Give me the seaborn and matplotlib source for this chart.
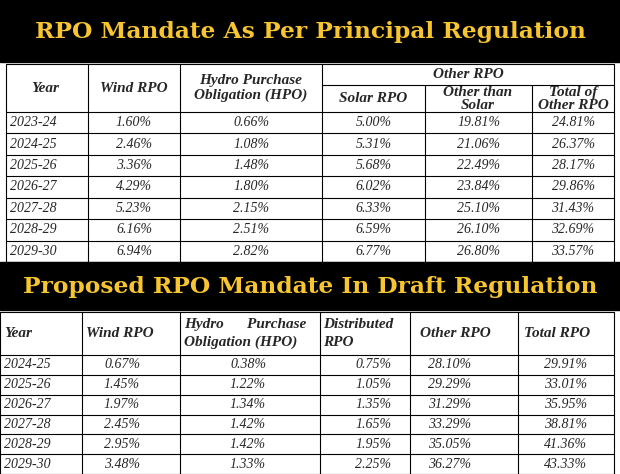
import matplotlib.pyplot as plt
import seaborn as sns

sns.set_theme(style="white")
plt.rcParams.update({"font.family": "Liberation Serif", "font.style": "italic"})

# top table data
years_1 = ["2023-24", "2024-25", "2025-26", "2026-27", "2027-28", "2028-29", "2029-30"]
wind_1 = ["1.60%", "2.46%", "3.36%", "4.29%", "5.23%", "6.16%", "6.94%"]
hpo_1 = ["0.66%", "1.08%", "1.48%", "1.80%", "2.15%", "2.51%", "2.82%"]
solar_1 = ["5.00%", "5.31%", "5.68%", "6.02%", "6.33%", "6.59%", "6.77%"]
other_1 = ["19.81%", "21.06%", "22.49%", "23.84%", "25.10%", "26.10%", "26.80%"]
total_1 = ["24.81%", "26.37%", "28.17%", "29.86%", "31.43%", "32.69%", "33.57%"]

# bottom table data
years_2 = ["2024-25", "2025-26", "2026-27", "2027-28", "2028-29", "2029-30"]
wind_2 = ["0.67%", "1.45%", "1.97%", "2.45%", "2.95%", "3.48%"]
hpo_2 = ["0.38%", "1.22%", "1.34%", "1.42%", "1.42%", "1.33%"]
dist_2 = ["0.75%", "1.05%", "1.35%", "1.65%", "1.95%", "2.25%"]
other_2 = ["28.10%", "29.29%", "31.29%", "33.29%", "35.05%", "36.27%"]
total_2 = ["29.91%", "33.01%", "35.95%", "38.81%", "41.36%", "43.33%"]

fig = plt.figure(figsize=(6.2, 4.74), dpi=100)
ax = fig.add_axes([0, 0, 1, 1])
ax.set_xlim(0, 620)
ax.set_ylim(474, 0)
ax.axis("off")

YELLOW = "#F7C530"
LW = 0.8

def title_bar(y0, y1, text):
    ax.add_patch(plt.Rectangle((0, y0), 620, y1 - y0, color="black", zorder=0))
    ax.text(310, (y0 + y1) / 2 + 1, text, ha="center", va="center", color=YELLOW,
            fontsize=16.8, fontweight="bold", fontstyle="normal", family="DejaVu Serif")

def hline(y, x0, x1):
    ax.plot([x0, x1], [y, y], color="black", lw=LW)

def vline(x, y0, y1):
    ax.plot([x, x], [y0, y1], color="black", lw=LW)

title_bar(0, 62, "RPO Mandate As Per Principal Regulation")
title_bar(262, 310, "Proposed RPO Mandate In Draft Regulation")

# ---- top table
xs = [6, 88, 180, 322, 425, 532, 614]
h0, hmid, h1 = 64, 85, 112
rows = [112 + i * (262 - 112) / 7 for i in range(8)]
hline(h0, xs[0], xs[-1])
hline(hmid, xs[3], xs[-1])
for y in rows:
    hline(y, xs[0], xs[-1])
for i, x in enumerate(xs):
    if i in (4, 5):
        vline(x, hmid, rows[-1])
    else:
        vline(x, h0, rows[-1])
fs = 10
ax.text(45, (h0 + h1) / 2, "Year", ha="center", va="center", fontsize=11, fontweight="bold")
ax.text(134, (h0 + h1) / 2, "Wind RPO", ha="center", va="center", fontsize=11, fontweight="bold")
ax.text(251, (h0 + h1) / 2, "Hydro Purchase\nObligation (HPO)", ha="center", va="center",
        fontsize=11, fontweight="bold", linespacing=1.1)
ax.text(468, (h0 + hmid) / 2, "Other RPO", ha="center", va="center", fontsize=11, fontweight="bold")
ax.text(373, (hmid + h1) / 2, "Solar RPO", ha="center", va="center", fontsize=11, fontweight="bold")
ax.text(478, (hmid + h1) / 2, "Other than\nSolar", ha="center", va="center", fontsize=11,
        fontweight="bold", linespacing=1.0)
ax.text(573, (hmid + h1) / 2, "Total of\nOther RPO", ha="center", va="center", fontsize=11,
        fontweight="bold", linespacing=1.0)
for i, vals in enumerate(zip(years_1, wind_1, hpo_1, solar_1, other_1, total_1)):
    yc = (rows[i] + rows[i + 1]) / 2
    ax.text(10, yc, vals[0], ha="left", va="center", fontsize=fs)
    for j, v in enumerate(vals[1:], start=1):
        ax.text((xs[j] + xs[j + 1]) / 2, yc, v, ha="center", va="center", fontsize=fs)

# ---- bottom table
xb = [0, 82, 180, 320, 410, 518, 614]
hb0, hb1 = 312, 355
rows_b = [hb1 + i * (474 - hb1) / 6 for i in range(7)]
hline(hb0, xb[0], xb[-1])
for y in rows_b:
    hline(y, xb[0], xb[-1])
for x in xb:
    vline(x, hb0, rows_b[-1])
yh = (hb0 + hb1) / 2
ax.text(4, yh, "Year", ha="left", va="center", fontsize=11, fontweight="bold")
ax.text(86, yh, "Wind RPO", ha="left", va="center", fontsize=11, fontweight="bold")
ax.text(184, yh - 9, "Hydro      Purchase", ha="left", va="center", fontsize=11, fontweight="bold")
ax.text(184, yh + 9, "Obligation (HPO)", ha="left", va="center", fontsize=11, fontweight="bold")
ax.text(323, yh - 9, "Distributed", ha="left", va="center", fontsize=11, fontweight="bold")
ax.text(323, yh + 9, "RPO", ha="left", va="center", fontsize=11, fontweight="bold")
ax.text(420, yh, "Other RPO", ha="left", va="center", fontsize=11, fontweight="bold")
ax.text(524, yh, "Total RPO", ha="left", va="center", fontsize=11, fontweight="bold")
left_x = [4, 104, 230, 355, 428, 544]
for i, vals in enumerate(zip(years_2, wind_2, hpo_2, dist_2, other_2, total_2)):
    yc = (rows_b[i] + rows_b[i + 1]) / 2
    for j, v in enumerate(vals):
        ax.text(left_x[j], yc, v, ha="left", va="center", fontsize=fs)

fig.savefig("out.png", dpi=100)
